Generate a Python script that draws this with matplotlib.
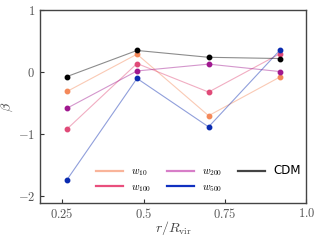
import numpy as np
import matplotlib.pyplot as plt

plt.rcParams['mathtext.fontset'] = 'cm'
plt.rcParams['font.family'] = 'DejaVu Sans'

r = [0.265, 0.48, 0.70, 0.92]
beta_w10 = [-0.31, 0.29, -0.70, -0.075]
beta_w100 = [-0.915, 0.14, -0.32, 0.30]
beta_w200 = [-0.58, 0.02, 0.13, 0.01]
beta_w500 = [-1.73, -0.10, -0.88, 0.36]
beta_cdm = [-0.07, 0.35, 0.24, 0.22]

series = [
    (beta_w10, '#f4895a', '#f9b49a', r'$w_{10}$'),
    (beta_w100, '#e04a78', '#e94f7d', r'$w_{100}$'),
    (beta_w200, '#a0188f', '#d77ec8', r'$w_{200}$'),
    (beta_w500, '#0a2bb0', '#1030c0', r'$w_{500}$'),
]

fig, ax = plt.subplots(figsize=(3.2, 2.4), dpi=100)
fig.subplots_adjust(left=0.125, right=0.957, top=0.958, bottom=0.153)

for vals, mcol, lcol, lab in series:
    ax.plot(r, vals, '-', color=mcol, alpha=0.45, lw=0.8, zorder=2)
    ax.plot(r, vals, 'o', color=mcol, ms=3.2, zorder=3)
ax.plot(r, beta_cdm, '-', color='k', alpha=0.45, lw=0.8, zorder=2)
ax.plot(r, beta_cdm, 'o', color='k', ms=3.2, zorder=3)

# legend handles
handles = []
for vals, mcol, lcol, lab in series:
    h, = ax.plot([], [], color=lcol, lw=1.6, label=lab)
    handles.append(h)
h, = ax.plot([], [], color='#444444', lw=1.6, label='CDM')
handles.append(h)
leg = ax.legend(handles=handles, ncol=3, loc='lower center', bbox_to_anchor=(0.595, 0.0),
                frameon=False, fontsize=7.5, handlelength=2.6, columnspacing=1.5,
                labelspacing=0.4)
leg.get_texts()[-1].set_fontsize(8.5)

ax.set_xlim(0.182, 1.0)
ax.set_ylim(-2.11, 1.0)
ax.set_xticks([0.25, 0.5, 0.75, 1.0])
ax.set_xticklabels([r'$0.25$', r'$0.5$', r'$0.75$', r'$1.0$'])
ax.set_yticks([-2, -1, 0, 1])
ax.set_yticklabels([r'$-2$', r'$-1$', r'$0$', r'$1$'])
ax.tick_params(direction='in', labelsize=9, length=3, colors='#333333', labelcolor='#555555')
ax.tick_params(axis='x', pad=2.5)
for s in ax.spines.values():
    s.set_color('#444444')
    s.set_linewidth(1.0)

ax.set_xlabel(r'$r/R_{\rm vir}$', fontsize=10, color='#444444', labelpad=-1)
ax.set_ylabel(r'$\beta$', fontsize=10, color='#444444', labelpad=2)

fig.savefig('out.png', dpi=100)
